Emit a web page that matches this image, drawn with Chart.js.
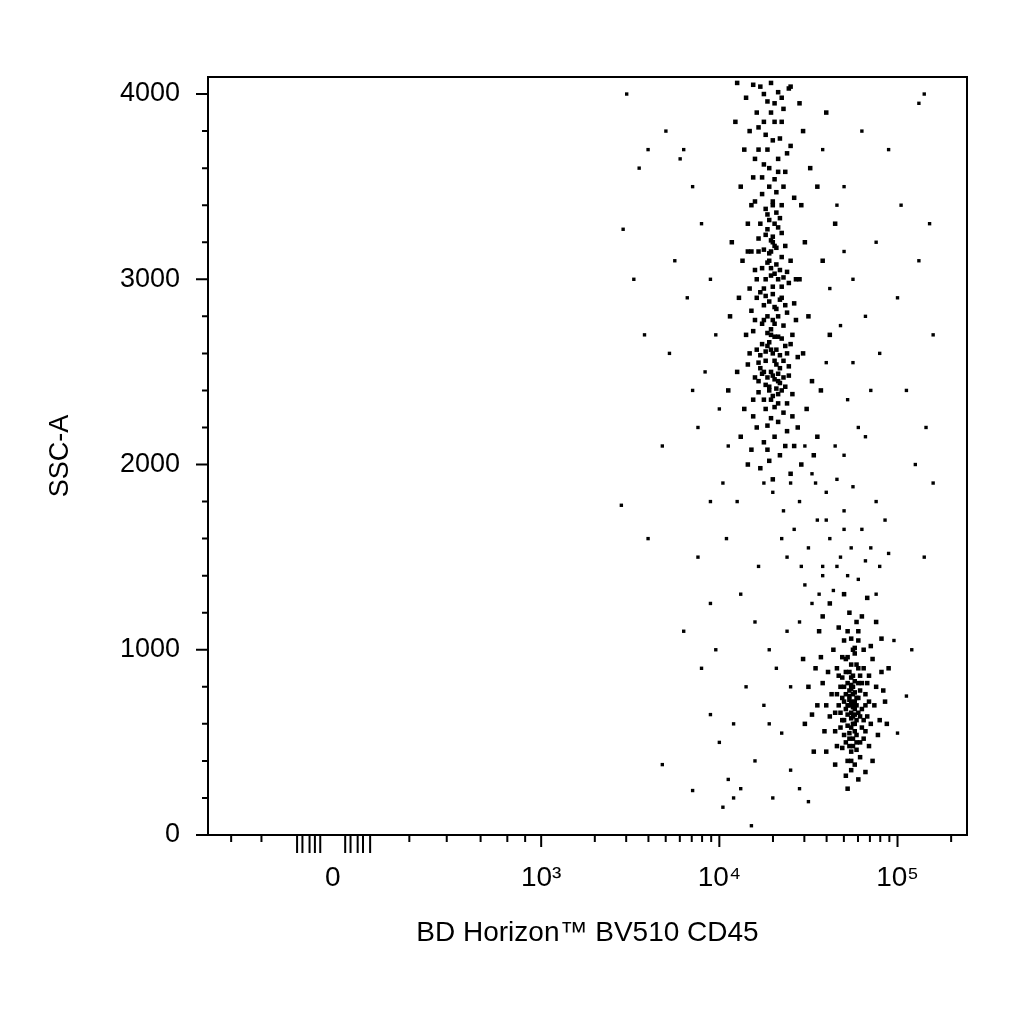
<!DOCTYPE html>
<html><head><meta charset="utf-8">
<script src="https://cdn.jsdelivr.net/npm/chart.js@4"></script>
<style>body{margin:0;background:#fff}#w{width:1024px;height:1024px}</style>
</head><body><div id="w"><canvas id="c"></canvas></div>
<script>
// x values are log10 of BV510 CD45 intensity, y is SSC-A
const granulocytes = [
[4.30,3200],[4.28,3100],[4.33,3000],[4.25,2950],[4.35,2900],[4.31,2850],[4.27,2800],[4.36,2750],[4.29,2700],[4.24,2650],
[4.32,2620],[4.38,2600],[4.26,2560],[4.34,2520],[4.30,2480],[4.22,2450],[4.37,2420],[4.28,2400],[4.33,2380],[4.25,2350],
[4.31,3300],[4.27,3350],[4.35,3250],[4.22,3220],[4.29,3150],[4.40,3100],[4.20,3050],[4.34,3050],[4.26,3000],[4.39,2980],
[4.21,2900],[4.30,2920],[4.42,2870],[4.18,2830],[4.33,2800],[4.24,2760],[4.41,2700],[4.19,2720],[4.35,2680],[4.27,2640],
[4.44,2580],[4.17,2600],[4.31,2560],[4.23,2520],[4.39,2480],[4.20,2470],[4.34,2440],[4.26,2300],[4.36,2280],[4.29,2250],
[4.21,2200],[4.38,2180],[4.31,2150],[4.25,2120],[4.42,2100],[4.18,2080],[4.34,2050],[4.28,2020],[4.46,2000],[4.23,1980],
[4.30,3420],[4.24,3460],[4.36,3500],[4.19,3550],[4.28,3600],[4.33,3650],[4.22,3700],[4.40,3720],[4.26,3780],[4.17,3800],
[4.31,3850],[4.21,3900],[4.36,3920],[4.27,3960],[4.15,3980],[4.33,4010],[4.23,4040],[4.39,4030],[4.19,4050],[4.29,4060],
[4.14,3700],[4.12,3500],[4.16,3300],[4.13,3100],[4.11,2900],[4.15,2700],[4.10,2500],[4.14,2300],[4.12,2150],[4.09,3850],
[4.46,3400],[4.48,3200],[4.45,3000],[4.50,2800],[4.47,2600],[4.52,2450],[4.49,2300],[4.55,2150],[4.51,3600],[4.47,3800],
[4.30,3230],[4.31,3180],[4.28,3140],[4.32,3080],[4.29,3020],[4.30,2960],[4.28,2880],[4.32,2840],[4.30,2780],[4.29,2730],
[4.31,2690],[4.28,2660],[4.30,2600],[4.32,2540],[4.29,2500],[4.31,2460],[4.28,2420],[4.30,2370],[4.33,2330],[4.27,3270],
[4.34,3330],[4.26,3380],[4.25,3160],[4.35,3120],[4.24,3060],[4.36,3010],[4.23,2930],[4.37,2860],[4.25,2780],[4.37,2640],
[4.23,2590],[4.36,2560],[4.24,2490],[4.35,2400],[4.22,2390],[4.38,2330],[4.27,2210],[4.33,2230],[4.19,2260],[4.41,2260],
[4.37,3580],[4.25,3620],[4.31,3540],[4.20,3420],[4.42,3440],[4.18,3150],[4.43,3000],[4.17,2950],[4.43,2780],[4.16,2540],
[4.58,3100],[4.62,2700],[4.60,3900],[4.57,2400],[4.65,3300],[4.07,3200],[4.06,2800],[4.05,2400],[4.55,3500],[4.53,2050],
[4.40,4040],[4.10,4060],[4.45,3950],[4.35,3850],[4.25,3850],[4.20,3650],[4.30,3750],[4.38,3680],[4.28,3500],[4.32,3470],
[4.29,3210],[4.32,3170],[4.27,3090],[4.31,3030],[4.26,2910],[4.34,2890],[4.27,2710],[4.33,2690],[4.26,2610],[4.34,2590],
[4.27,2470],[4.33,2490],[4.26,2430],[4.32,2410],[4.29,2350],[4.31,2310],[4.28,3320],[4.32,3360],[4.30,3400],[4.26,3240],
[4.33,3280],[4.29,3060],[4.35,2960],[4.25,2860],[4.31,2760],[4.29,2620],[4.33,2450],[4.25,2500],[4.36,2470],[4.22,2550],
[4.39,2530],[4.21,2620],[4.40,2650],[4.20,2780],[4.38,2820],[4.21,3000],[4.38,3040],[4.22,3150],[4.37,3180],[4.23,3300],
[4.35,3400],[4.24,3550],[4.33,3580],[4.27,3700],[4.34,3760],[4.22,3820],[4.29,3900],[4.35,3980],[4.25,4000],[4.31,3950],
[4.18,3400],[4.16,3150],[4.19,2350],[4.41,2380],[4.44,2200],[4.16,2000],[4.27,2080],[4.37,2100],[4.40,1950],[4.30,1920]
];
const lymphocytes = [
[4.75,800],[4.73,750],[4.77,700],[4.72,650],[4.76,600],[4.74,850],[4.78,900],[4.71,950],[4.75,1000],[4.73,550],
[4.77,500],[4.74,450],[4.70,720],[4.79,780],[4.72,820],[4.80,680],[4.69,620],[4.76,560],[4.71,880],[4.78,1050],
[4.75,760],[4.74,720],[4.76,680],[4.75,640],[4.73,700],[4.77,740],[4.74,790],[4.76,830],[4.75,600],[4.74,580],
[4.68,800],[4.82,760],[4.67,700],[4.83,640],[4.66,900],[4.84,860],[4.65,560],[4.81,520],[4.69,470],[4.79,420],
[4.72,400],[4.76,380],[4.74,350],[4.70,1050],[4.78,1100],[4.64,1000],[4.86,950],[4.63,760],[4.87,700],[4.62,640],
[4.88,800],[4.61,880],[4.85,1020],[4.67,1120],[4.80,1180],[4.73,1200],[4.60,700],[4.90,620],[4.58,820],[4.91,880],
[4.66,480],[4.84,480],[4.71,320],[4.78,300],[4.59,560],[4.89,540],[4.57,960],[4.92,780],[4.55,700],[4.93,720],
[4.75,700],[4.74,660],[4.76,720],[4.73,780],[4.77,620],[4.72,590],[4.78,820],[4.71,760],[4.79,640],[4.74,920],
[4.69,850],[4.81,900],[4.70,540],[4.80,580],[4.68,660],[4.82,700],[4.73,480],[4.77,460],[4.75,520],[4.76,980],
[4.54,900],[4.52,650],[4.50,800],[4.56,1100],[4.62,1250],[4.70,1300],[4.83,1280],[4.88,1150],[4.95,900],[4.48,600],
[4.60,450],[4.86,400],[4.65,380],[4.82,340],[4.53,450],[4.94,600],[4.47,950],[4.58,1180],[4.91,1060],[4.72,250],
[4.74,810],[4.76,770],[4.73,730],[4.75,690],[4.74,630],[4.76,650],[4.75,860],[4.73,880],[4.77,920],[4.72,960],
[4.76,1010],[4.74,1060],[4.73,520],[4.75,480],[4.77,540],[4.72,700],[4.78,740],[4.71,680],[4.79,860],[4.70,800],
[4.80,820],[4.69,740],[4.81,620],[4.68,580],[4.82,560],[4.70,620],[4.78,660],[4.71,500],[4.79,500],[4.74,400],
[4.67,860],[4.83,820],[4.66,760],[4.84,720],[4.65,660],[4.85,600],[4.69,960],[4.81,1000],[4.72,1100],[4.77,1150]
];
const scattered = [
[4.45,1800],[4.55,1700],[4.62,1600],[4.50,1550],[4.68,1500],[4.58,1450],[4.72,1400],[4.48,1350],[4.64,1320],[4.78,1380],
[4.40,1900],[4.52,1950],[4.60,1850],[4.70,1750],[4.80,1650],[4.85,1550],[4.90,1450],[4.42,1650],[4.36,1750],[4.66,1920],
[4.75,1880],[4.88,1800],[4.93,1700],[4.95,1520],[4.38,1500],[4.30,1850],[4.25,1900],[4.35,1600],[4.46,1450],[4.56,1300],
[4.70,2050],[4.78,2200],[4.85,2400],[4.90,2600],[4.82,2800],[4.75,3000],[4.88,3200],[4.70,3500],[4.95,3700],[4.80,3800],
[4.65,2100],[4.72,2350],[4.60,2550],[4.68,2750],[4.62,2950],[4.70,3150],[4.66,3400],[4.58,3700],[4.75,2550],[4.82,2150],
[5.00,2900],[5.05,2400],[5.10,2000],[5.15,1500],[5.08,1000],[5.02,3400],[5.12,3100],[5.18,3300],[5.16,2200],[5.20,1900],
[5.05,750],[5.00,550],[4.98,1050],[5.12,3950],[5.15,4000],[5.20,2700],
[4.05,2100],[4.00,2300],[3.98,2700],[3.95,3000],[3.92,2500],[3.90,3300],[3.88,2200],[3.85,3500],[4.02,1900],[4.04,1600],
[3.80,3700],[3.78,3650],[3.70,3800],[3.75,3100],[3.82,2900],[3.72,2600],[3.85,2400],[3.68,2100],[3.95,1800],[3.88,1500],
[3.60,3700],[3.55,3600],[3.48,4000],[3.46,3270],[3.52,3000],[3.58,2700],[3.45,1780],[3.60,1600],[3.68,380],[3.80,1100],
[3.90,900],[3.95,650],[4.00,500],[4.05,300],[4.02,150],[4.08,200],[4.12,250],[4.20,400],[4.18,50],[4.28,600],
[4.35,550],[4.40,350],[4.30,200],[4.45,250],[4.50,180],[4.38,1100],[4.32,900],[4.25,700],[3.85,240],[3.95,1250],
[4.12,1300],[4.20,1150],[4.28,1000],[4.15,800],[4.08,600],[3.98,1000],[4.22,1450],[4.10,1800],[4.45,1150],[4.40,800],
[4.52,1250],[4.58,1400],[4.66,1450],[4.74,1550],[4.82,1480],[4.88,1300],[4.60,1700],[4.70,1650],[4.54,1900],[4.48,2100]
];
const yTicks=[0,1000,2000,3000,4000];
const xTickPos=[1.83,3,4,5];
const xTickLabels=['0','10³','10⁴','10⁵'];
const xMinorPos=[1.26,1.43,1.63,1.66,1.70,1.73,1.76,1.90,1.93,1.97,2.0,2.04,2.26,2.47,2.66,2.81,2.91];

const toPts=a=>a.map(p=>({x:p[0],y:p[1]}));
const ds=(arr,r)=>({data:toPts(arr),backgroundColor:'#000',borderColor:'#000',borderWidth:0,pointRadius:r,pointStyle:'rect'});

const ticksPlugin={id:'tk',afterDraw(ch){
  const c=ch.ctx,a=ch.chartArea,xs=ch.scales.x,ys=ch.scales.y;
  c.save();c.strokeStyle='#000';c.lineWidth=2;
  c.strokeRect(a.left,a.top,a.right-a.left,a.bottom-a.top);
  c.beginPath();
  for(let v=0;v<=4000;v+=200){const p=ys.getPixelForValue(v);const L=v%1000===0?12:6;c.moveTo(a.left,p);c.lineTo(a.left-L,p);}
  xTickPos.slice(1).forEach(v=>{const p=xs.getPixelForValue(v);c.moveTo(p,a.bottom);c.lineTo(p,a.bottom+12);});
  const minor=[...xMinorPos];
  for(let d=3;d<=5;d++)for(let k=2;k<=9;k++){const u=d+Math.log10(k);if(u<xs.max)minor.push(u);}
  minor.forEach(v=>{const p=xs.getPixelForValue(v);const L=(v>1.6&&v<2.1)?18:7;c.moveTo(p,a.bottom);c.lineTo(p,a.bottom+L);});
  c.stroke();c.restore();
}};

new Chart(document.getElementById('c'),{
  type:'scatter',
  data:{datasets:[ds(granulocytes,3.2),ds(lymphocytes,3.2),ds(scattered,2.4)]},
  options:{responsive:true,maintainAspectRatio:false,animation:false,
    layout:{padding:{left:40,right:57,top:77,bottom:70}},
    plugins:{legend:{display:false},tooltip:{enabled:false}},
    scales:{
      x:{type:'linear',min:1.13,max:5.39,grid:{display:false},border:{display:false},
        afterBuildTicks:s=>{s.ticks=xTickPos.map(v=>({value:v}));},
        afterFit:s=>{s.height=119;},
        ticks:{padding:18,color:'#000',font:{family:'Liberation Sans',size:28},autoSkip:false,maxRotation:0,
          callback:(v,i)=>xTickLabels[i]},
        title:{display:true,text:'BD Horizon™ BV510 CD45',color:'#000',font:{family:'Liberation Sans',size:28},padding:{top:0}}},
      y:{type:'linear',min:0,max:4092,grid:{display:false},border:{display:false},
        afterBuildTicks:s=>{s.ticks=yTicks.map(v=>({value:v}));},
        afterFit:s=>{s.width=168;},
        ticks:{padding:20,color:'#000',font:{family:'Liberation Sans',size:27},callback:v=>String(v)},
        title:{display:true,text:'SSC-A',color:'#000',font:{family:'Liberation Sans',size:27},padding:{bottom:14}}}
    }},
  plugins:[ticksPlugin]
});
</script></body></html>
